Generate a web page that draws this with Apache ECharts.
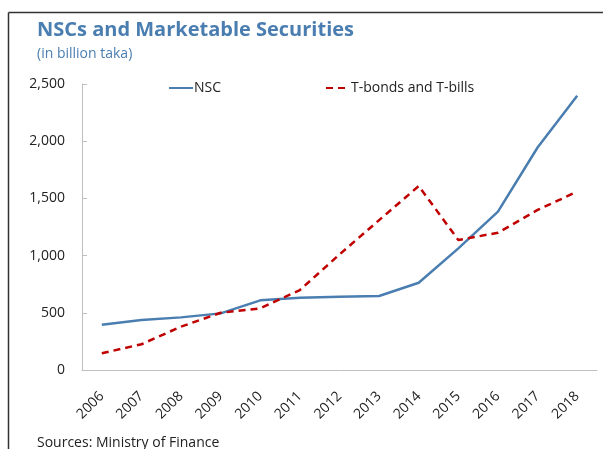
<!DOCTYPE html>
<html>
<head>
<meta charset="utf-8">
<script src="https://cdn.jsdelivr.net/npm/echarts@6/dist/echarts.min.js"></script>
<style>
html,body{margin:0;padding:0;background:#fff;}
#chart{width:603px;height:449px;}
</style>
</head>
<body>
<div id="chart"></div>
<script>
const years = ['2006','2007','2008','2009','2010','2011','2012','2013','2014','2015','2016','2017','2018'];
const nscValues = [395, 437, 460, 495, 609, 632, 641, 647, 763, 1063, 1384, 1945, 2398];
const tbondValues = [146, 225, 379, 500, 539, 699, 1010, 1310, 1608, 1136, 1200, 1399, 1559];
const yTicks = [0, 500, 1000, 1500, 2000, 2500];

const blue = '#4a7eb0';
const red = '#c00000';
const font = '"Open Sans", "Noto Sans", sans-serif';

const chart = echarts.init(document.getElementById('chart'), null, {renderer: 'canvas'});
chart.setOption({
  animation: false,
  backgroundColor: '#fff',
  textStyle: {fontFamily: font},
  title: [
    {text: 'NSCs and Marketable Securities', left: 37, top: 20, padding: 0,
     textStyle: {fontFamily: font, fontWeight: 'bold', fontSize: 20, color: blue}},
    {text: '(in billion taka)', left: 37, top: 47, padding: 0,
     textStyle: {fontFamily: font, fontWeight: 'normal', fontSize: 14, color: blue}},
    {text: 'Sources: Ministry of Finance', left: 37, top: 436, padding: 0,
     textStyle: {fontFamily: font, fontWeight: 'normal', fontSize: 14, color: '#222'}}
  ],
  graphic: [
    {type: 'line', shape: {x1: 8.5, y1: 12.5, x2: 700, y2: 12.5}, style: {stroke: '#333', lineWidth: 1.5}},
    {type: 'line', shape: {x1: 8.5, y1: 12.5, x2: 8.5, y2: 500}, style: {stroke: '#333', lineWidth: 1.5}}
  ],
  legend: [
    {data: ['NSC'], left: 168, top: 81, padding: 0, itemWidth: 24, itemHeight: 10, itemGap: 4,
     itemStyle: {opacity: 0},
     textStyle: {fontFamily: font, fontSize: 14, color: '#222', padding: [0,0,0,-4]}},
    {data: ['T-bonds and T-bills'], left: 325, top: 81, padding: 0, itemWidth: 24, itemHeight: 10,
     itemStyle: {opacity: 0},
     textStyle: {fontFamily: font, fontSize: 14, color: '#222', padding: [0,0,0,-4]}}
  ],
  grid: {left: 82, right: 6, top: 84, bottom: 79},
  xAxis: {
    type: 'category', data: years, boundaryGap: true,
    axisLine: {lineStyle: {color: '#bfbfbf', width: 1}},
    axisTick: {inside: true, length: 5, alignWithLabel: false, lineStyle: {color: '#bfbfbf'}},
    axisLabel: {rotate: 45, margin: 24, fontFamily: font, fontSize: 14, color: '#222', interval: 0}
  },
  yAxis: {
    type: 'value', min: 0, max: 2500, interval: 500,
    splitLine: {show: false},
    axisLine: {show: true, lineStyle: {color: '#bfbfbf', width: 1}},
    axisTick: {show: true, inside: true, length: 5, lineStyle: {color: '#bfbfbf'}},
    axisLabel: {margin: 17, fontFamily: font, fontSize: 14, color: '#222',
      formatter: v => v.toLocaleString('en-US')}
  },
  series: [
    {name: 'NSC', type: 'line', data: nscValues, symbol: 'none',
     lineStyle: {color: blue, width: 2.5}, itemStyle: {color: blue}},
    {name: 'T-bonds and T-bills', type: 'line', data: tbondValues, symbol: 'none',
     lineStyle: {color: red, width: 2.5, type: [7, 5]}, itemStyle: {color: red}}
  ]
});
</script>
</body>
</html>
